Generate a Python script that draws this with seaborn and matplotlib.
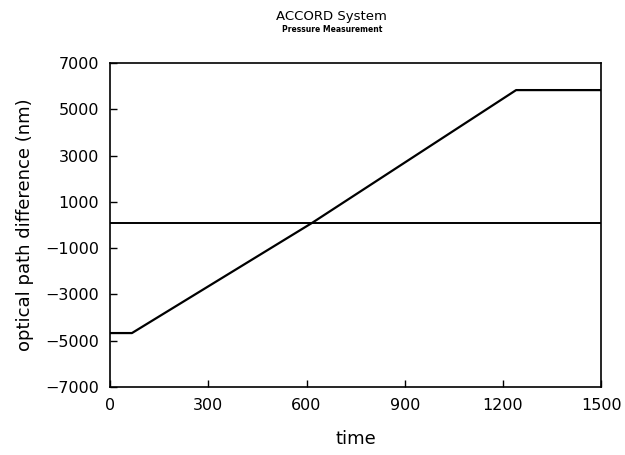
import numpy as np
import pandas as pd
import matplotlib
matplotlib.use("Agg")
import matplotlib.pyplot as plt
import seaborn as sns

# Data
time = [0, 67, 618, 1240, 1500]
opd = [-4670, -4670, 100, 5830, 5830]
ref_time = [0, 1500]
ref_opd = [100, 100]
xticks = [0, 300, 600, 900, 1200, 1500]
yticks = [-7000, -5000, -3000, -1000, 1000, 3000, 5000, 7000]

sns.set_theme(style="white")
plt.rcParams['font.family'] = ['DejaVu Sans']

fig = plt.figure(figsize=(6.25, 4.55), dpi=100)
ax = fig.add_axes([0.176, 0.1495, 0.786, 0.712])

df = pd.DataFrame({'time': time, 'opd': opd})
sns.lineplot(data=df, x='time', y='opd', ax=ax, color='black', linewidth=1.6)
sns.lineplot(x=ref_time, y=ref_opd, ax=ax, color='black', linewidth=1.4)

ax.set_xlim(0, 1500)
ax.set_ylim(-7000, 7000)
ax.set_xticks(xticks)
ax.set_yticks(yticks)
ax.tick_params(direction='in', length=5, width=1, colors='black', labelsize=11.5,
               bottom=True, left=True, pad=8)
for lbl in ax.get_xticklabels() + ax.get_yticklabels():
    lbl.set_fontweight('medium')
for s in ax.spines.values():
    s.set_color('black')
    s.set_linewidth(1.2)

ax.set_xlabel('time', fontsize=13, labelpad=12, color='black')
ax.set_ylabel('optical path difference (nm)', fontsize=13, labelpad=8, color='black')

fig.text(0.531, 0.955, 'ACCORD System', ha='center', fontsize=9.5, color='black')
fig.text(0.531, 0.93, 'Pressure Measurement', ha='center', fontsize=5.5,
         fontweight='bold', color='black')

fig.savefig('out.png', dpi=100)
